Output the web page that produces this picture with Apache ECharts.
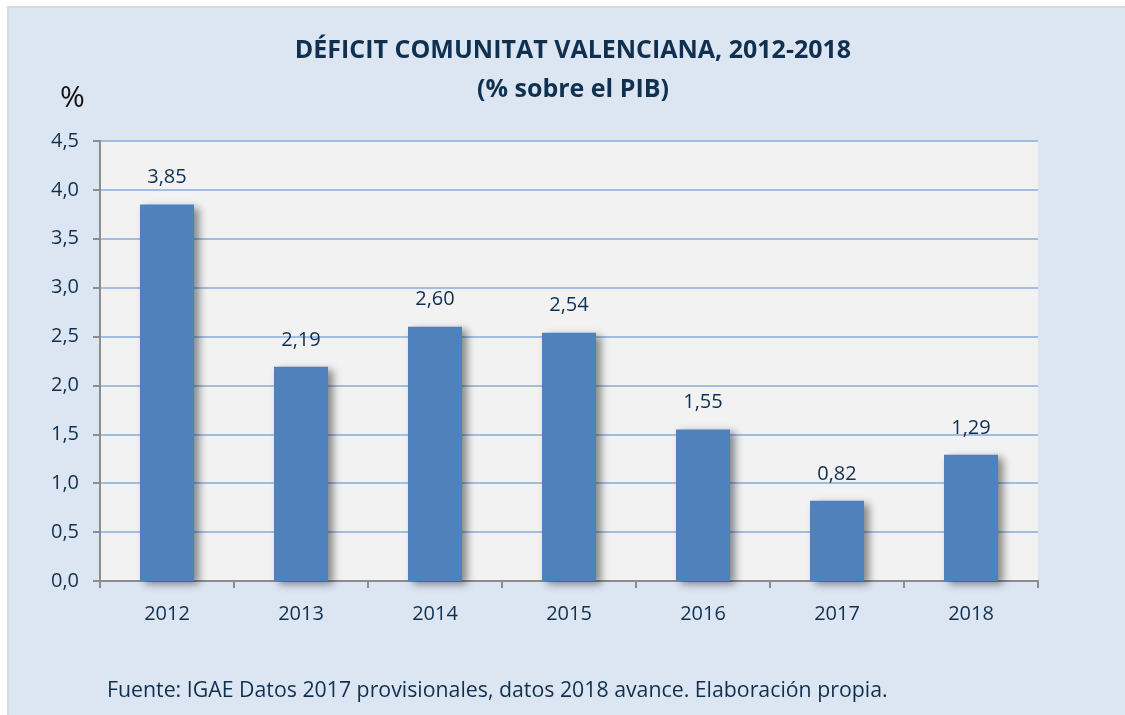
<!DOCTYPE html>
<html>
<head>
<meta charset="utf-8">
<script src="https://cdn.jsdelivr.net/npm/echarts@6/dist/echarts.min.js"></script>
<style>
html,body{margin:0;padding:0;background:#ffffff;}
#bg{position:absolute;left:7px;top:6px;width:1118px;height:709px;background:#dce6f2;border-left:2px solid #d9d9d9;border-top:2px solid #d9d9d9;}
#chart{position:absolute;left:0;top:0;width:1125px;height:715px;}
</style>
</head>
<body>
<div id="bg"></div>
<div id="chart"></div>
<script>
var years = ['2012','2013','2014','2015','2016','2017','2018'];
var deficit = [3.85, 2.19, 2.60, 2.54, 1.55, 0.82, 1.29];
var yTicks = [0, 0.5, 1.0, 1.5, 2.0, 2.5, 3.0, 3.5, 4.0, 4.5];

var navy = '#10304f';
var fontFam = '"Open Sans", "Noto Sans", sans-serif';
var chart = echarts.init(document.getElementById('chart'), null, {renderer:'canvas'});
chart.setOption({
  backgroundColor: 'transparent',
  textStyle: {fontFamily: fontFam},
  title: [{
    text: 'DÉFICIT COMUNITAT VALENCIANA, 2012-2018\n(% sobre el PIB)',
    left: 568, top: 26, textAlign: 'center',
    textStyle: {fontSize: 25, fontWeight: 'bold', color: navy, lineHeight: 39, fontFamily: fontFam}
  },{
    text: '%', left: 55, top: 78,
    textStyle: {fontSize: 30, fontWeight: 'normal', color: '#111111', fontFamily: fontFam}
  },{
    text: 'Fuente: IGAE Datos 2017 provisionales, datos 2018 avance. Elaboración propia.',
    left: 102, top: 675,
    textStyle: {fontSize: 21.3, fontWeight: 'normal', color: navy, fontFamily: fontFam}
  }],
  grid: {left: 100, top: 141, width: 938, height: 440, show: true, backgroundColor: '#f2f2f2', borderWidth: 0, containLabel: false},
  xAxis: {
    type: 'category', data: years,
    axisLine: {show: true, lineStyle: {color: '#8c8c8c', width: 2}},
    axisTick: {show: true, alignWithLabel: false, length: 7, lineStyle: {color: '#8c8c8c', width: 2}},
    axisLabel: {color: navy, fontSize: 20, margin: 23, fontFamily: fontFam},
    splitLine: {show: false}
  },
  yAxis: {
    type: 'value', min: 0, max: 4.5, interval: 0.5,
    axisLine: {show: true, lineStyle: {color: '#8c8c8c', width: 2}},
    axisTick: {show: true, length: 7, lineStyle: {color: '#8c8c8c', width: 2}},
    axisLabel: {color: navy, fontSize: 20, margin: 21, fontFamily: fontFam,
      formatter: function(v){ return v.toFixed(1).replace('.', ','); }},
    splitLine: {show: true, lineStyle: {color: '#a3bde0', width: 2}}
  },
  series: [{
    type: 'bar', data: deficit, barWidth: 54,
    itemStyle: {color: '#4f81bd', shadowColor: 'rgba(0,0,0,0.45)', shadowBlur: 8, shadowOffsetX: 5, shadowOffsetY: 3},
    label: {show: true, position: 'top', distance: 17, color: navy, fontSize: 20, fontFamily: fontFam,
      formatter: function(p){ return p.value.toFixed(2).replace('.', ','); }}
  }]
});
</script>
</body>
</html>
